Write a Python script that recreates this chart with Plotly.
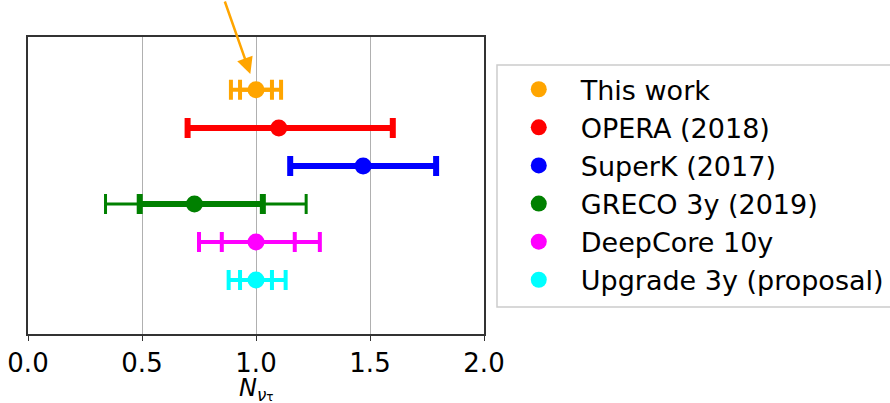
import plotly.graph_objects as go

labels = ["This work", "OPERA (2018)", "SuperK (2017)", "GRECO 3y (2019)", "DeepCore 10y", "Upgrade 3y (proposal)"]
colors = ["#FFA500", "#FF0000", "#0000FF", "#008000", "#FF00FF", "#00FFFF"]
rows = [6, 5, 4, 3, 2, 1]
centers = [1.00, 1.10, 1.47, 0.73, 1.00, 1.00]
inner_lo = [0.93, 0.70, 1.15, 0.49, 0.85, 0.93]
inner_hi = [1.07, 1.60, 1.79, 1.03, 1.17, 1.07]
outer_lo = [0.89, None, None, 0.34, 0.75, 0.88]
outer_hi = [1.11, None, None, 1.22, 1.28, 1.13]
inner_w = [4, 6, 6, 6, 4, 4]
outer_w = [4, 0, 0, 3, 4, 4]
xticks = [0.0, 0.5, 1.0, 1.5, 2.0]

fig = go.Figure()
for i in range(len(labels)):
    c = centers[i]
    if outer_lo[i] is not None:
        fig.add_trace(go.Scatter(
            x=[c], y=[rows[i]], mode="markers",
            marker=dict(size=1, color=colors[i], opacity=0),
            error_x=dict(type="data", symmetric=False,
                         array=[outer_hi[i] - c], arrayminus=[c - outer_lo[i]],
                         color=colors[i], thickness=outer_w[i], width=10),
            showlegend=False, hoverinfo="skip"))
    fig.add_trace(go.Scatter(
        x=[c], y=[rows[i]], mode="markers", name=labels[i],
        marker=dict(size=17, color=colors[i]),
        error_x=dict(type="data", symmetric=False,
                     array=[inner_hi[i] - c], arrayminus=[c - inner_lo[i]],
                     color=colors[i], thickness=inner_w[i], width=10)))

fig.add_annotation(x=0.975, y=6.42, xref="x", yref="y", ax=-26, ay=-85,
                   showarrow=True, arrowhead=2, arrowsize=1.3, arrowwidth=2.5,
                   arrowcolor="#FFA500", text="")

# x-axis title placed as an annotation under the tick labels
fig.add_annotation(x=0.5, y=-0.132, xref="paper", yref="paper",
                   xanchor="center", yanchor="top", showarrow=False, borderpad=0,
                   text="<i>N</i><sub><i>ν</i><span style='font-size:12px'>τ</span></sub>",
                   font=dict(size=24, color="black"))

# legend frame
fig.add_shape(type="rect", xref="paper", yref="paper",
              x0=1.0285, x1=1.9, y0=0.091, y1=0.906,
              line=dict(color="#cccccc", width=1.5), fillcolor="white", layer="below")

fig.update_layout(
    width=890, height=403,
    margin=dict(l=28, r=406, t=37, b=69, autoexpand=False),
    plot_bgcolor="white", paper_bgcolor="white",
    font=dict(family="DejaVu Sans", size=26, color="black"),
    xaxis=dict(range=[0, 2], tickvals=xticks, ticktext=[f"{v:.1f}" for v in xticks],
               showgrid=True, gridcolor="#b0b0b0", gridwidth=1,
               showline=True, linecolor="#333333", linewidth=1.5, mirror=True,
               ticks="outside", ticklen=5, tickcolor="#333333",
               zeroline=False, automargin=False, tickfont=dict(size=26)),
    yaxis=dict(range=[-0.42, 7.39], showticklabels=False, showgrid=False,
               showline=True, linecolor="#333333", linewidth=1.5, mirror=True,
               zeroline=False, ticks="", automargin=False),
    legend=dict(x=1.028, y=0.905, xanchor="left", yanchor="top",
                borderwidth=0, bgcolor="rgba(0,0,0,0)",
                font=dict(size=27), itemwidth=74, tracegroupgap=0),
    showlegend=True,
)

fig.write_html("out.html")
